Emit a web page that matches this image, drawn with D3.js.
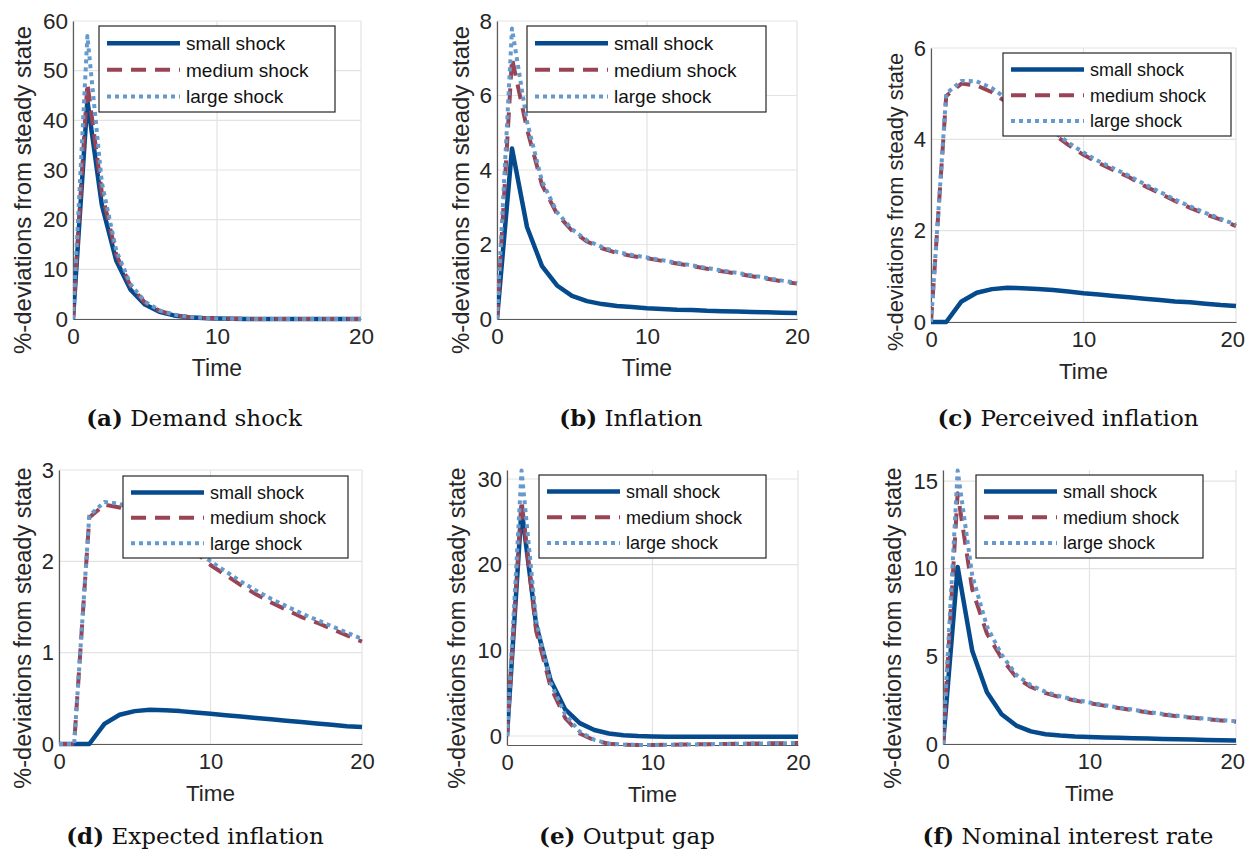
<!DOCTYPE html>
<html><head><meta charset="utf-8">
<script src="https://cdn.jsdelivr.net/npm/d3@7"></script>
<style>body{margin:0;background:#fff} svg{display:block}</style>
</head><body><svg id="chart" width="1247" height="852"></svg>
<script>
// ---------- data ----------
const time = [0,1,2,3,4,5,6,7,8,9,10,11,12,13,14,15,16,17,18,19,20];
const seriesNames = ["small shock", "medium shock", "large shock"];

const demandSmall  = [0,44.0,23.0,11.8,5.9,2.9,1.45,0.72,0.36,0.18,0.09,0.05,0.02,0.01,0,0,0,0,0,0,0];
const demandMedium = [0,47.5,25.5,13.0,6.6,3.3,1.65,0.82,0.41,0.2,0.1,0.05,0.03,0.01,0,0,0,0,0,0,0];
const demandLarge  = [0,57.0,27.5,13.8,7.0,3.5,1.75,0.88,0.44,0.22,0.11,0.05,0.03,0.01,0,0,0,0,0,0,0];

const inflSmall  = [0,4.58,2.47,1.42,0.9,0.62,0.48,0.40,0.35,0.32,0.29,0.27,0.25,0.24,0.22,0.21,0.20,0.19,0.18,0.17,0.16];
const inflMedium = [0,7.0,5.1,3.6,2.82,2.37,2.08,1.9,1.77,1.69,1.63,1.56,1.49,1.42,1.35,1.28,1.22,1.15,1.08,1.01,0.95];
const inflLarge  = [0,7.8,5.3,3.7,2.87,2.41,2.11,1.93,1.8,1.72,1.65,1.58,1.51,1.44,1.37,1.3,1.24,1.17,1.1,1.03,0.97];

const percSmall  = [0,0,0.45,0.64,0.72,0.75,0.74,0.72,0.7,0.67,0.63,0.6,0.57,0.54,0.51,0.48,0.45,0.43,0.4,0.37,0.35];
const percMedium = [0,4.95,5.22,5.18,5.03,4.8,4.57,4.35,4.12,3.88,3.66,3.48,3.32,3.17,2.98,2.82,2.65,2.5,2.36,2.24,2.1];
const percLarge  = [0,5.0,5.28,5.27,5.12,4.88,4.65,4.42,4.18,3.93,3.71,3.52,3.36,3.2,3.02,2.85,2.68,2.53,2.39,2.26,2.13];

const expSmall  = [0,0,0,0.22,0.32,0.36,0.375,0.37,0.36,0.345,0.33,0.315,0.3,0.285,0.27,0.255,0.24,0.225,0.21,0.195,0.185];
const expMedium = [0,0,2.48,2.62,2.59,2.52,2.43,2.33,2.22,2.1,1.96,1.85,1.74,1.64,1.55,1.47,1.39,1.33,1.26,1.19,1.12];
const expLarge  = [0,0,2.5,2.65,2.63,2.56,2.47,2.37,2.26,2.14,2.0,1.89,1.78,1.68,1.59,1.51,1.43,1.36,1.29,1.22,1.15];

const gapSmall  = [0,26.5,13.0,6.5,3.1,1.5,0.7,0.3,0.1,0.0,-0.05,-0.08,-0.08,-0.08,-0.08,-0.08,-0.08,-0.08,-0.08,-0.08,-0.08];
const gapMedium = [0,27.5,12.3,5.7,2.1,0.3,-0.5,-0.9,-1.02,-1.05,-1.05,-1.02,-1.0,-0.97,-0.95,-0.92,-0.9,-0.88,-0.86,-0.84,-0.82];
const gapLarge  = [0,31.0,13.5,6.2,2.5,0.5,-0.45,-0.88,-1.0,-1.05,-1.05,-1.03,-1.0,-0.98,-0.95,-0.93,-0.9,-0.88,-0.86,-0.84,-0.82];

const rateSmall  = [0,10.1,5.3,2.95,1.7,1.05,0.72,0.56,0.48,0.43,0.4,0.37,0.35,0.33,0.31,0.29,0.27,0.25,0.23,0.21,0.2];
const rateMedium = [0,14.3,8.8,6.3,4.9,3.8,3.25,2.9,2.67,2.48,2.33,2.19,2.05,1.92,1.8,1.68,1.58,1.5,1.42,1.34,1.27];
const rateLarge  = [0,15.6,9.6,6.7,5.1,3.95,3.35,2.97,2.72,2.53,2.37,2.22,2.08,1.95,1.83,1.71,1.61,1.52,1.44,1.36,1.3];

const xTicks = [0,10,20];
const xLabel = "Time";
const yLabel = "%-deviations from steady state";

const panelLetters = ["(a)","(b)","(c)","(d)","(e)","(f)"];
const panelTitles = ["Demand shock","Inflation","Perceived inflation","Expected inflation","Output gap","Nominal interest rate"];
const panelSeries = [
  [demandSmall, demandMedium, demandLarge],
  [inflSmall, inflMedium, inflLarge],
  [percSmall, percMedium, percLarge],
  [expSmall, expMedium, expLarge],
  [gapSmall, gapMedium, gapLarge],
  [rateSmall, rateMedium, rateLarge]
];
const panelYDomains = [[0,60],[0,8],[0,6],[0,3],[-1.05,31.05],[0,15.63]];
const panelYTicks = [[0,10,20,30,40,50,60],[0,2,4,6,8],[0,2,4,6],[0,1,2,3],[0,10,20,30],[0,5,10,15]];

// ---------- layout (pixels) ----------
const layout = [
  {x0:73,  x1:361,  y0:21,  y1:319, leg:[99,26,236,86],   ylx:31,  yly:190, yls:24,   tfs:22.5, lfs:19, cap:[194,426]},
  {x0:497, x1:797,  y0:21,  y1:319, leg:[527,26,239,86],  ylx:469, yly:190, yls:24,   tfs:22.5, lfs:19, cap:[631,426]},
  {x0:931, x1:1236, y0:48,  y1:322, leg:[1003,53,228,83], ylx:903, yly:202, yls:21.8, tfs:22,   lfs:18, cap:[1068,426]},
  {x0:59,  x1:362,  y0:470, y1:744, leg:[123,476,225,82], ylx:31,  yly:628, yls:23.5, tfs:22,   lfs:18, cap:[195,844]},
  {x0:507, x1:798,  y0:470, y1:745, leg:[539,475,227,83], ylx:465, yly:628, yls:23.5, tfs:22,   lfs:18, cap:[627,844]},
  {x0:943, x1:1236, y0:470, y1:744, leg:[976,475,227,83], ylx:901, yly:628, yls:23.5, tfs:22,   lfs:18, cap:[1068,844]}
];
const styles = [
  {color:"#044a8c", dash:null,   width:4.5},
  {color:"#994455", dash:"15,9", width:4},
  {color:"#6699cc", dash:"4,4",  width:4}
];
const textColor = "#262626";
const sans = "'Liberation Sans', Arial, Helvetica, sans-serif";

const svg = d3.select("#chart");

layout.forEach((L, i) => {
  const g = svg.append("g");
  const x = d3.scaleLinear().domain([0,20]).range([L.x0, L.x1]);
  const y = d3.scaleLinear().domain(panelYDomains[i]).range([L.y1, L.y0]);

  // grid
  g.append("g").selectAll("line").data(xTicks).join("line")
    .attr("x1", d => x(d)).attr("x2", d => x(d)).attr("y1", L.y0).attr("y2", L.y1)
    .attr("stroke", "#e3e3e3").attr("stroke-width", 1.2);
  g.append("g").selectAll("line").data(panelYTicks[i]).join("line")
    .attr("x1", L.x0).attr("x2", L.x1).attr("y1", d => y(d)).attr("y2", d => y(d))
    .attr("stroke", "#e3e3e3").attr("stroke-width", 1.2);

  // axes
  const xa = g.append("g").attr("transform", `translate(0,${L.y1})`)
    .call(d3.axisBottom(x).tickValues(xTicks).tickSize(0).tickPadding(Math.round(L.tfs*0.4)).tickFormat(d3.format("d")));
  const ya = g.append("g").attr("transform", `translate(${L.x0},0)`)
    .call(d3.axisLeft(y).tickValues(panelYTicks[i]).tickSize(0).tickPadding(5).tickFormat(d3.format("d")));
  [xa, ya].forEach(a => {
    a.select(".domain").attr("stroke", "#5a5a5a").attr("stroke-width", 1.2);
    a.selectAll("text").attr("font-family", sans).attr("font-size", L.tfs).attr("fill", textColor);
  });
  // keep tick labels inside the page
  xa.selectAll(".tick text").each(function() {
    const b = this.getBoundingClientRect();
    if (b.right > 1245) d3.select(this).attr("dx", -(b.right - 1245));
  });

  // clip
  const cid = "clip" + i;
  svg.append("clipPath").attr("id", cid).append("rect")
    .attr("x", L.x0).attr("y", L.y0 - 3).attr("width", L.x1 - L.x0 + 3).attr("height", L.y1 - L.y0 + 6);

  const line = d3.line().x((d, k) => x(time[k])).y(d => y(d));
  const lg = g.append("g").attr("clip-path", `url(#${cid})`);
  panelSeries[i].forEach((s, k) => {
    lg.append("path").datum(s).attr("d", line)
      .attr("fill", "none").attr("stroke", styles[k].color)
      .attr("stroke-width", styles[k].width)
      .attr("stroke-dasharray", styles[k].dash)
      .attr("stroke-linejoin", "round");
  });

  // labels
  g.append("text").attr("x", (L.x0 + L.x1) / 2).attr("y", L.y1 + 57)
    .attr("text-anchor", "middle").attr("font-family", sans).attr("font-size", L.tfs + 0.5)
    .attr("fill", textColor).text(xLabel);
  g.append("text").attr("transform", `translate(${L.ylx},${L.yly}) rotate(-90)`)
    .attr("text-anchor", "middle").attr("font-family", sans).attr("font-size", L.yls)
    .attr("fill", textColor).text(yLabel);

  // legend
  const [lx, ly, lw, lh] = L.leg;
  const leg = g.append("g");
  leg.append("rect").attr("x", lx).attr("y", ly).attr("width", lw).attr("height", lh)
    .attr("fill", "#fff").attr("stroke", "#262626").attr("stroke-width", 1.2);
  const rowH = lh * 0.31;
  seriesNames.forEach((nm, k) => {
    const cy = ly + lh * 0.2 + k * rowH;
    leg.append("line").attr("x1", lx + 8).attr("x2", lx + 81).attr("y1", cy).attr("y2", cy)
      .attr("stroke", styles[k].color).attr("stroke-width", styles[k].width)
      .attr("stroke-dasharray", styles[k].dash);
    leg.append("text").attr("x", lx + 87).attr("y", cy).attr("dy", "0.35em")
      .attr("font-family", sans).attr("font-size", L.lfs).attr("fill", "#111").text(nm);
  });

  // caption
  const cap = svg.append("text").attr("x", L.cap[0]).attr("y", L.cap[1])
    .attr("text-anchor", "middle").attr("font-family", "'DejaVu Serif', serif")
    .attr("font-size", 23).attr("fill", "#111");
  cap.append("tspan").attr("font-weight", "bold").text(panelLetters[i]);
  cap.append("tspan").text(" " + panelTitles[i]);
});
</script></body></html>
